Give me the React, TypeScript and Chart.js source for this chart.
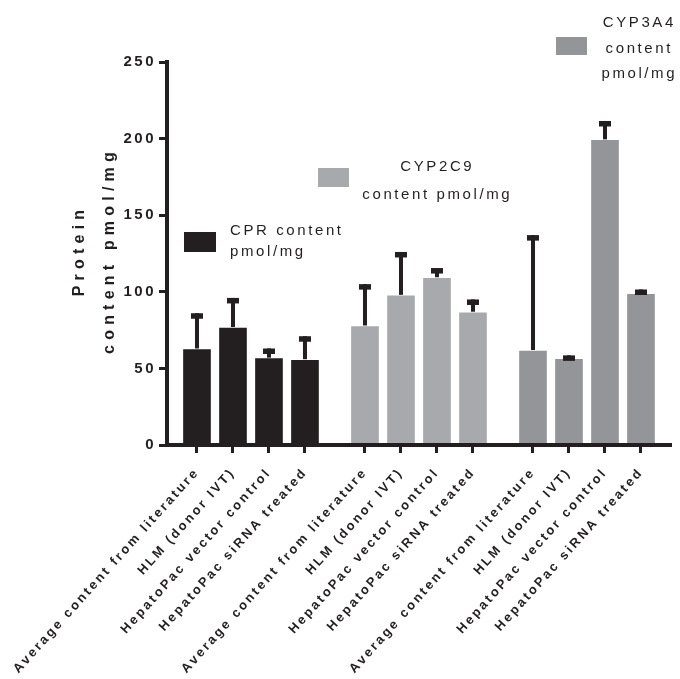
import React, { useEffect, useRef } from 'react';
import { Chart, registerables } from 'chart.js';

Chart.register(...registerables);

const categories = [
  'Average content from literature',
  'HLM (donor IVT)',
  'HepatoPac vector control',
  'HepatoPac siRNA treated',
];
const seriesNames = ['CPR content pmol/mg', 'CYP2C9 content pmol/mg', 'CYP3A4 content pmol/mg'];
const cprValues = [63, 77, 57, 56];
const cprErrors = [23, 19, 6, 15];
const cyp2c9Values = [78, 98, 109.5, 87];
const cyp2c9Errors = [27, 28, 6, 8];
const cyp3a4Values = [62, 56.5, 199.5, 99];
const cyp3a4Errors = [75, 2, 12, 2.5];
const yTicks = [0, 50, 100, 150, 200, 250];
const yTitle = ['Protein', 'content pmol/mg'];

const colors = ['#231F20', '#A7A9AC', '#939598'];
const INK = '#231F20';
const FONT = "'Liberation Sans', Arial, Helvetica, sans-serif";

const seriesValues = [cprValues, cyp2c9Values, cyp3a4Values];
const seriesErrors = [cprErrors, cyp2c9Errors, cyp3a4Errors];
const GROUP_STRIDE = 4.667;
const pos = (g: number, i: number) => g * GROUP_STRIDE + i;
const xPositions: number[] = [];
const xLabels: string[] = [];
seriesValues.forEach((vals, g) =>
  vals.forEach((_, i) => {
    xPositions.push(pos(g, i));
    xLabels.push(categories[i]);
  })
);

// legend layout (pixel positions on canvas)
const legendLayout = [
  { box: [184, 232, 32, 20], lines: ['CPR content', 'pmol/mg'], align: 'left', x: 230, y0: 235, lh: 21 },
  { box: [318, 168, 31, 19], lines: ['CYP2C9', 'content pmol/mg'], align: 'center', x: 436, y0: 171, lh: 28 },
  { box: [556, 37, 31, 18], lines: ['CYP3A4', 'content', 'pmol/mg'], align: 'center', x: 638, y0: 27, lh: 25.5 },
];

const spacingPlugin = {
  id: 'spacing',
  beforeDraw(chart: any) {
    chart.ctx.letterSpacing = '2.5px';
  },
};

const errorBarPlugin = {
  id: 'errorBars',
  afterDatasetsDraw(chart: any) {
    const ctx = chart.ctx;
    const ys = chart.scales.y;
    ctx.save();
    ctx.fillStyle = INK;
    chart.data.datasets.forEach((ds: any, di: number) => {
      const meta = chart.getDatasetMeta(di);
      meta.data.forEach((bar: any, i: number) => {
        const v = seriesValues[di][i];
        const e = seriesErrors[di][i];
        const yTop = ys.getPixelForValue(v + e);
        const yBar = ys.getPixelForValue(v);
        ctx.fillRect(bar.x - 2, yTop, 4, yBar - yTop);
        ctx.fillRect(bar.x - 6, yTop, 12, 5.5);
      });
    });
    ctx.restore();
  },
};

const annotPlugin = {
  id: 'annot',
  afterDraw(chart: any) {
    const ctx = chart.ctx;
    ctx.save();
    // y-axis title
    ctx.fillStyle = INK;
    ctx.font = `bold 16px ${FONT}`;
    ctx.letterSpacing = '5.2px';
    ctx.textAlign = 'center';
    ctx.textBaseline = 'middle';
    const cy = (chart.chartArea.top + chart.chartArea.bottom) / 2;
    ctx.translate(0, cy);
    ctx.rotate(-Math.PI / 2);
    ctx.fillText(yTitle[0], 3, 80);
    ctx.fillText(yTitle[1], 3, 110);
    ctx.restore();

    // legends
    ctx.save();
    ctx.font = `15px ${FONT}`;
    ctx.textBaseline = 'alphabetic';
    legendLayout.forEach((l, k) => {
      ctx.fillStyle = colors[k];
      ctx.fillRect(l.box[0], l.box[1], l.box[2], l.box[3]);
      ctx.fillStyle = INK;
      ctx.textAlign = l.align;
      ctx.letterSpacing = '2.6px';
      l.lines.forEach((t, j) => {
        ctx.fillText(t, l.x + (l.align === 'center' ? 1.3 : 0), l.y0 + j * l.lh);
      });
    });
    ctx.restore();
  },
};

export default function App() {
  const ref = useRef<HTMLCanvasElement>(null);
  useEffect(() => {
    if (!ref.current) return;
    const chart = new Chart(ref.current, {
      type: 'bar',
      data: {
        datasets: seriesValues.map((vals, g) => ({
          label: seriesNames[g],
          data: vals.map((v, i) => ({ x: pos(g, i), y: v })),
          backgroundColor: colors[g],
          borderColor: 'rgba(255,255,255,0.3)',
          borderWidth: 1,
          barThickness: 29,
          grouped: false,
        })),
      },
      options: {
        animation: false,
        responsive: true,
        maintainAspectRatio: false,
        layout: { padding: { top: 62, right: 10, left: 0, bottom: 0 } },
        plugins: { legend: { display: false }, tooltip: { enabled: false }, title: { display: false } },
        scales: {
          x: {
            type: 'linear',
            offset: false,
            min: -0.833,
            max: 13.14,
            afterBuildTicks: (s: any) => {
              s.ticks = xPositions.map((v) => ({ value: v }));
            },
            afterFit: (s: any) => {
              s.height = 234;
              s.paddingLeft = 0;
              s.paddingRight = 0;
            },
            grid: { offset: false, drawOnChartArea: false, drawTicks: true, tickLength: 8, lineWidth: 3, color: INK },
            border: { display: true, width: 4, color: INK, z: 1 },
            ticks: {
              autoSkip: false,
              minRotation: 48,
              maxRotation: 48,
              padding: 12,
              color: INK,
              font: { family: FONT, size: 13, weight: 'bold' },
              callback: (_v: any, i: number) => xLabels[i],
            },
          },
          y: {
            min: 0,
            max: 250,
            afterBuildTicks: (s: any) => {
              s.ticks = yTicks.map((v) => ({ value: v }));
            },
            afterFit: (s: any) => {
              s.width = 167;
              s.paddingTop = 0;
              s.paddingBottom = 0;
            },
            grid: { drawOnChartArea: false, drawTicks: true, tickLength: 8, lineWidth: 3, color: INK },
            border: { display: true, width: 4, color: INK, z: 1 },
            ticks: {
              padding: 3,
              color: INK,
              font: { family: FONT, size: 15, weight: 'bold' },
            },
          },
        },
      },
      plugins: [spacingPlugin, errorBarPlugin, annotPlugin],
    } as any);
    return () => chart.destroy();
  }, []);
  return (
    <div style={{ position: 'fixed', left: 0, top: 0, width: 680, height: 679, background: '#fff' }}>
      <canvas ref={ref} />
    </div>
  );
}
